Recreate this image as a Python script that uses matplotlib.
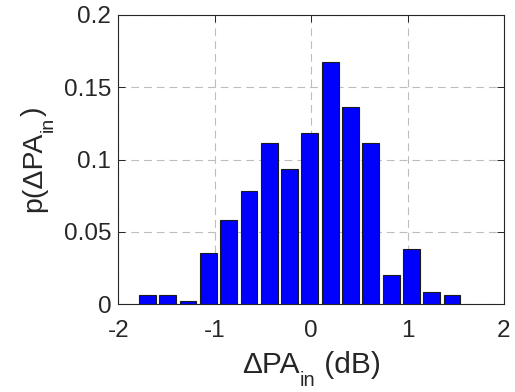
import matplotlib
matplotlib.use("Agg")
import matplotlib.pyplot as plt

plt.rcParams['font.family'] = ['Liberation Sans', 'DejaVu Sans']

bin_centers = [-1.698, -1.487, -1.277, -1.066, -0.855, -0.645, -0.434, -0.224,
               -0.013, 0.198, 0.408, 0.619, 0.830, 1.040, 1.251, 1.462]
probabilities = [0.0064, 0.0064, 0.0021, 0.0354, 0.0580, 0.0780, 0.1116, 0.0937,
                 0.1183, 0.1673, 0.1360, 0.1116, 0.0200, 0.0380, 0.0087, 0.0064]
x_ticks = [-2, -1, 0, 1, 2]
x_tick_labels = ['-2', '-1', '0', '1', '2']
y_ticks = [0, 0.05, 0.1, 0.15, 0.2]
y_tick_labels = ['0', '0.05', '0.1', '0.15', '0.2']
xlabel_parts = ['\u0394PA', 'in', ' (dB)']
ylabel_parts = ['p(\u0394PA', 'in', ')']

W, H = 515, 392
fig = plt.figure(figsize=(W / 100, H / 100), dpi=100)
ax = fig.add_axes([0.2297, 0.2237, 0.7489, 0.7388])

ax.bar(bin_centers, probabilities, width=0.174, color='#0000FF',
       edgecolor='#1a1a1a', linewidth=0.8, zorder=3)

ax.set_xlim(-2, 2)
ax.set_ylim(0, 0.2)
ax.set_xticks(x_ticks)
ax.set_xticklabels(x_tick_labels)
ax.set_yticks(y_ticks)
ax.set_yticklabels(y_tick_labels)

ax.grid(True, linestyle=(0, (7, 4.5)), color='#bdbdbd', linewidth=0.8, zorder=0)
ax.set_axisbelow(True)
ax.tick_params(direction='in', length=5, width=0.7, colors='#262626',
               labelsize=17.5, labelcolor='#262626', top=True, right=True)
ax.tick_params(axis='x', pad=11)
ax.tick_params(axis='y', pad=5)
for s in ax.spines.values():
    s.set_color('#262626')
    s.set_linewidth(0.8)

renderer = fig.canvas.get_renderer()


def compound_label(parts, fontsize, center_px, base_px, vertical=False):
    """Place main text + lowered subscript + tail text, MATLAB style."""
    sizes = [fontsize, fontsize * 0.68, fontsize]
    drops = [0, fontsize * 1.389 * 0.42, 0]
    widths = []
    for s, fs in zip(parts, sizes):
        t = fig.text(0, 0, s, fontsize=fs)
        widths.append(t.get_window_extent(renderer).width)
        t.remove()
    total = sum(widths)
    pos = center_px - total / 2
    for s, fs, w, d in zip(parts, sizes, widths, drops):
        if not vertical:
            fig.text(pos / W, (H - (base_px + d)) / H, s, fontsize=fs,
                     ha='left', va='baseline', color='#262626')
        else:
            fig.text((base_px + d) / W, pos / H, s, fontsize=fs,
                     ha='left', va='baseline', rotation=90,
                     rotation_mode='anchor', color='#262626')
        pos += w


# x label: centred under axes
compound_label(xlabel_parts, 21.5, 311.5, 373)
# y label: centred on axes (px from bottom), baseline ~41 px from left
compound_label(ylabel_parts, 20.5, H - 159.5, 41, vertical=True)

fig.savefig('out.png', dpi=100)
